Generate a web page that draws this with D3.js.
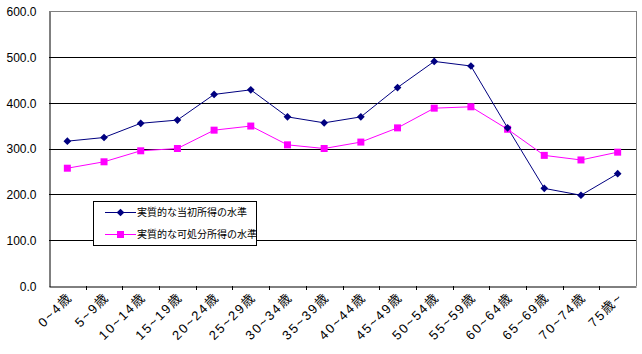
<!DOCTYPE html>
<meta charset="utf-8">
<style>
  body { margin: 0; background: #fff; }
  text { font-family: "Liberation Sans", Arial, "Noto Sans CJK JP", sans-serif; }
</style>
<svg width="642" height="354"></svg>
<script src="https://cdn.jsdelivr.net/npm/d3@7"></script>
<script>

var categories = ["0~4歳", "5~9歳", "10~14歳", "15~19歳", "20~24歳", "25~29歳", "30~34歳", "35~39歳",
    "40~44歳", "45~49歳", "50~54歳", "55~59歳", "60~64歳", "65~69歳", "70~74歳", "75歳~"];

var initialIncome = [316, 324, 355, 362, 418, 428, 369, 356, 369, 433, 490, 480, 345, 213, 198, 245];
var disposableIncome = [257, 271, 295, 300, 340, 349, 308, 300, 314, 345, 388, 391, 342, 285, 275, 292];

var seriesNames = ["実質的な当初所得の水準", "実質的な可処分所得の水準"];
var yTicks = [0, 100, 200, 300, 400, 500, 600];

var svg = d3.select("svg"),
    plotLeft = 49, plotRight = 636, plotTop = 11, plotBottom = 286;

var x = d3.scaleBand().domain(categories).range([plotLeft, plotRight]),
    y = d3.scaleLinear().domain([0, 600]).range([plotBottom, plotTop]);

// grid lines
svg.append("g").selectAll("line")
    .data(yTicks.slice(1))
  .enter().append("line")
    .attr("x1", plotLeft).attr("x2", plotRight)
    .attr("y1", function(d) { return Math.round(y(d)) + 0.5; })
    .attr("y2", function(d) { return Math.round(y(d)) + 0.5; })
    .attr("stroke", function(d) { return d === 600 ? "#808080" : "#000"; });

svg.append("line")
    .attr("x1", plotRight + 0.5).attr("x2", plotRight + 0.5)
    .attr("y1", plotTop).attr("y2", plotBottom)
    .attr("stroke", "#808080");

// y axis
var yAxis = svg.append("g")
    .attr("transform", "translate(" + (plotLeft + 0.5) + ",0.5)")
    .call(d3.axisLeft(y).tickValues(yTicks).tickSize(0).tickPadding(13).tickFormat(d3.format(".1f")));
yAxis.select(".domain").attr("stroke", "#000");
yAxis.selectAll("text").attr("font-size", 12).attr("fill", "#000");

// x axis
var xAxis = svg.append("g")
    .attr("transform", "translate(0," + (plotBottom + 0.5) + ")")
    .call(d3.axisBottom(x).tickSize(0).tickFormat(""));
xAxis.select(".domain").attr("stroke", "#000");

svg.append("g").selectAll("line")
    .data(categories.slice(1))
  .enter().append("line")
    .attr("x1", function(d) { return Math.round(x(d)) + 0.5; })
    .attr("x2", function(d) { return Math.round(x(d)) + 0.5; })
    .attr("y1", plotBottom).attr("y2", plotBottom + 4)
    .attr("stroke", "#000");

svg.append("g").selectAll("text")
    .data(categories)
  .enter().append("text")
    .attr("transform", function(d) {
      return "translate(" + (x(d) + x.bandwidth() / 2 + 6) + "," + (plotBottom + 12) + ") rotate(-45)";
    })
    .attr("text-anchor", "end")
    .attr("font-size", 13)
    .attr("letter-spacing", 1.8)
    .text(function(d) { return d; });

// series
var line = d3.line()
    .x(function(d, i) { return x(categories[i]) + x.bandwidth() / 2; })
    .y(function(d) { return y(d); });

svg.append("path")
    .datum(disposableIncome)
    .attr("d", line)
    .attr("fill", "none")
    .attr("stroke", "#ff00ff");

svg.append("path")
    .datum(initialIncome)
    .attr("d", line)
    .attr("fill", "none")
    .attr("stroke", "#000080");

var square = d3.symbol().type(d3.symbolSquare).size(49),
    diamond = d3.symbol().type(d3.symbolSquare).size(30);

svg.append("g").selectAll("path")
    .data(disposableIncome)
  .enter().append("path")
    .attr("transform", function(d, i) { return "translate(" + (x(categories[i]) + x.bandwidth() / 2) + "," + y(d) + ")"; })
    .attr("d", square)
    .attr("fill", "#ff00ff");

svg.append("g").selectAll("path")
    .data(initialIncome)
  .enter().append("path")
    .attr("transform", function(d, i) { return "translate(" + (x(categories[i]) + x.bandwidth() / 2) + "," + y(d) + ") rotate(45)"; })
    .attr("d", diamond)
    .attr("fill", "#000080");

// legend
var legend = svg.append("g");
legend.append("rect")
    .attr("x", 93.5).attr("y", 201.5).attr("width", 163).attr("height", 44)
    .attr("fill", "#fff").attr("stroke", "#000");

var colors = ["#000080", "#ff00ff"],
    symbols = [diamond, square];

seriesNames.forEach(function(name, i) {
  var ly = 212 + i * 22;
  legend.append("line")
      .attr("x1", 105).attr("x2", 136)
      .attr("y1", ly + 0.5).attr("y2", ly + 0.5)
      .attr("stroke", colors[i]);
  legend.append("path")
      .attr("transform", "translate(120.5," + (ly + 0.5) + ")" + (i === 0 ? " rotate(45)" : ""))
      .attr("d", symbols[i])
      .attr("fill", colors[i]);
  legend.append("text")
      .attr("x", 137).attr("y", ly + 4)
      .attr("font-size", 10)
      .text(name);
});

</script>
